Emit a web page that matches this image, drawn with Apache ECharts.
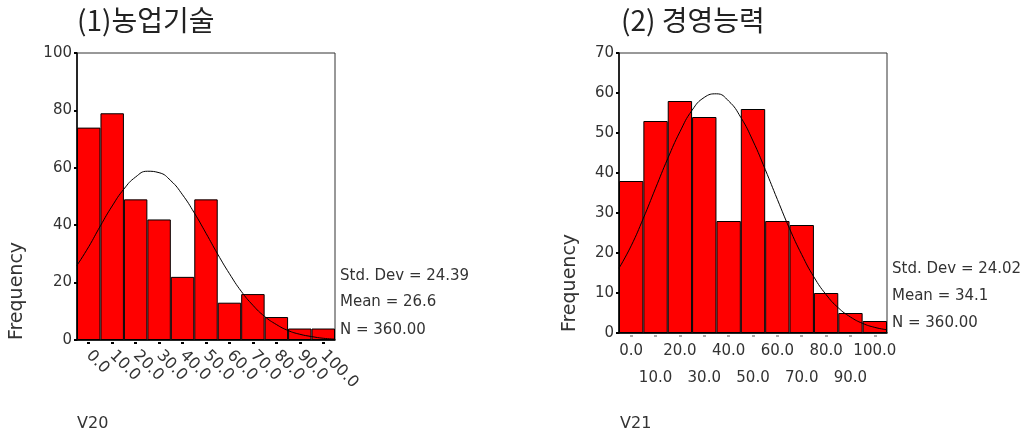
<!DOCTYPE html>
<html><head><meta charset="utf-8">
<script src="https://cdn.jsdelivr.net/npm/echarts@6/dist/echarts.min.js"></script>
<style>html,body{margin:0;padding:0;background:#fff}#c{width:1022px;height:435px}</style>
</head><body><div id="c"></div>
<script>
const binLabels = ['0.0','10.0','20.0','30.0','40.0','50.0','60.0','70.0','80.0','90.0','100.0'];
const freq1 = [74, 79, 49, 42, 22, 49, 13, 16, 8, 4, 4];
const freq2 = [38, 53, 58, 54, 28, 56, 28, 27, 10, 5, 3];
const curveX = [-5, 0, 5, 10, 15, 20, 25, 30, 35, 40, 45, 50, 55, 60, 65, 70, 75, 80, 85, 90, 95, 100, 105];
const curve1 = [26, 32.5, 39.8, 46.7, 52.6, 56.8, 58.8, 58.3, 55.5, 50.6, 44.3, 37.2, 29.9, 23.1, 17.0, 12.1, 8.2, 5.4, 3.3, 2.0, 1.2, 0.6, 0.3];
const curve2 = [16.2, 21.8, 28.7, 36.2, 43.6, 50.3, 55.7, 58.9, 59.8, 58.0, 53.9, 48.0, 40.9, 33.4, 26.1, 19.6, 14.0, 9.6, 6.3, 4.0, 2.4, 1.4, 0.8];
const titles = ['(1)농업기술', '(2) 경영능력'];
const stats1 = ['Std. Dev = 24.39', 'Mean = 26.6', 'N = 360.00'];
const stats2 = ['Std. Dev = 24.02', 'Mean = 34.1', 'N = 360.00'];
const varNames = ['V20', 'V21'];

const FONT = 'DejaVu Sans';
const TXT = '#333';
const chart = echarts.init(document.getElementById('c'), null, {renderer: 'canvas'});

function yAxis(gi, max, interval) {
  return {
    type: 'value', gridIndex: gi, min: 0, max: max, interval: interval,
    axisLine: {show: true, onZero: false, lineStyle: {color: '#000', width: 1.5}},
    axisTick: {show: true, length: 3, lineStyle: {color: '#000', width: 2}},
    axisLabel: {color: TXT, fontSize: 15, fontFamily: FONT, margin: 5},
    splitLine: {show: false}
  };
}
function hiddenX(gi) {
  return {type: 'value', gridIndex: gi, min: -5, max: 105, show: false};
}
function textEl(x, y, t, size) {
  return {type: 'text', x: x, y: y,
    style: {text: t, fill: TXT, font: (size || 15) + 'px "' + FONT + '"', textVerticalAlign: 'middle'}};
}
const tickStyle = (c) => ({show: true, alignWithLabel: true, length: 4,
  lineStyle: {color: c, width: 3, type: [2, 10], dashOffset: -2}});

const option = {
  animation: false,
  backgroundColor: '#fff',
  title: [
    {text: titles[0], left: 77, top: 6, padding: 0, textStyle: {fontFamily: 'Noto Sans CJK KR', fontSize: 28, fontWeight: 'normal', color: '#222'}},
    {text: titles[1], left: 621, top: 6, padding: 0, textStyle: {fontFamily: 'Noto Sans CJK KR', fontSize: 28, fontWeight: 'normal', color: '#222'}}
  ],
  grid: [
    {left: 77, top: 53, width: 258, height: 287, show: true, borderColor: '#333', borderWidth: 1, backgroundColor: 'transparent'},
    {left: 619, top: 53, width: 268, height: 280, show: true, borderColor: '#333', borderWidth: 1, backgroundColor: 'transparent'}
  ],
  xAxis: [
    {type: 'category', gridIndex: 0, data: binLabels, boundaryGap: true,
      axisLine: {lineStyle: {color: '#000', width: 1.5}},
      axisTick: tickStyle('#000'),
      axisLabel: {interval: 0, rotate: -45, color: TXT, fontSize: 16, fontFamily: FONT, margin: 13}},
    hiddenX(0),
    {type: 'category', gridIndex: 1, data: binLabels, boundaryGap: true,
      axisLine: {lineStyle: {color: '#000', width: 1.5}},
      axisTick: tickStyle('#aaa'),
      axisLabel: {interval: 0, color: TXT, fontSize: 15, fontFamily: FONT, margin: 5, lineHeight: 27,
        formatter: (v, i) => (i % 2 ? '\n' + v : v)}},
    hiddenX(1)
  ],
  yAxis: [yAxis(0, 100, 20), yAxis(1, 70, 10)],
  series: [
    {type: 'bar', xAxisIndex: 0, yAxisIndex: 0, data: freq1, barCategoryGap: '0%',
      itemStyle: {color: '#ff0000', borderColor: '#000', borderWidth: 1}},
    {type: 'line', xAxisIndex: 1, yAxisIndex: 0, data: curveX.map((x, i) => [x, curve1[i]]),
      smooth: true, showSymbol: false, z: 5, lineStyle: {color: '#000', width: 1}},
    {type: 'bar', xAxisIndex: 2, yAxisIndex: 1, data: freq2, barCategoryGap: '0%',
      itemStyle: {color: '#ff0000', borderColor: '#000', borderWidth: 1}},
    {type: 'line', xAxisIndex: 3, yAxisIndex: 1, data: curveX.map((x, i) => [x, curve2[i]]),
      smooth: true, showSymbol: false, z: 5, lineStyle: {color: '#000', width: 1}}
  ],
  graphic: [
    textEl(340, 276, stats1[0]), textEl(340, 302, stats1[1]), textEl(340, 330, stats1[2]),
    textEl(892, 269, stats2[0]), textEl(892, 296, stats2[1]), textEl(892, 323, stats2[2]),
    textEl(77, 424, varNames[0], 16), textEl(620, 424, varNames[1], 16),
    {type: 'text', x: 17, y: 291, rotation: Math.PI / 2,
      style: {text: 'Frequency', fill: TXT, font: '19px "' + FONT + '"', textAlign: 'center', textVerticalAlign: 'middle'}},
    {type: 'text', x: 570, y: 283, rotation: Math.PI / 2,
      style: {text: 'Frequency', fill: TXT, font: '19px "' + FONT + '"', textAlign: 'center', textVerticalAlign: 'middle'}}
  ]
};
chart.setOption(option);
</script></body></html>
